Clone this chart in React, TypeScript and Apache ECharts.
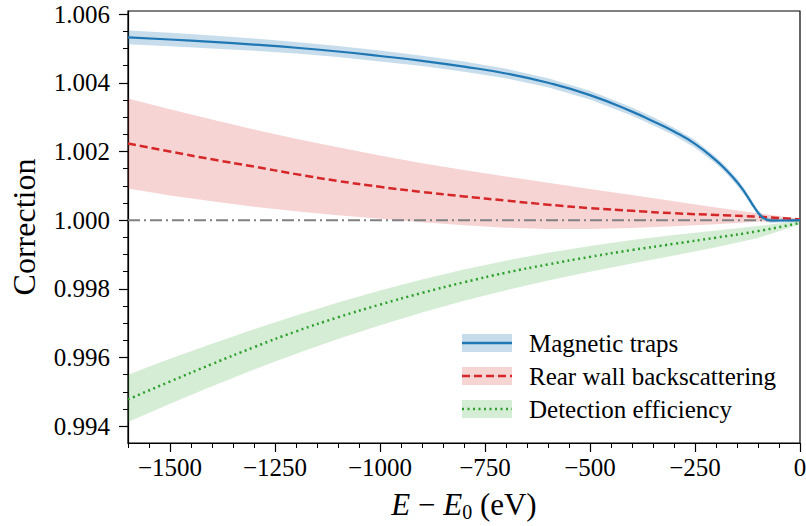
import React, { useEffect, useRef } from "react";
import * as echarts from "echarts";

// ---------- data ----------
const blueE = [-1600, -1500, -1400, -1300, -1200, -1100, -1000, -900, -800, -700, -600, -500, -400, -350, -300, -250, -200, -175, -150, -130, -120, -110, -100, -90, -80, -70, -50, -30, 0];
const blueMid = [1.00532, 1.00526, 1.00519, 1.00511, 1.00502, 1.00491, 1.00478, 1.00464, 1.00447, 1.00427, 1.004, 1.00364, 1.00316, 1.00288, 1.00258, 1.00222, 1.00174, 1.00145, 1.00111, 1.00078, 1.00059, 1.0004, 1.00022, 1.00009, 1.00002, 0.99999, 0.99999, 0.99999, 1.0];
const blueHalfWidth = [0.0002, 0.0002, 0.00019, 0.00018, 0.00017, 0.00016, 0.00016, 0.00015, 0.00015, 0.00014, 0.00013, 0.00013, 0.00012, 0.00012, 0.00011, 0.00011, 0.0001, 0.0001, 0.0001, 0.00009, 0.00009, 0.00008, 0.00008, 0.00008, 0.00007, 0.00007, 0.00006, 0.00005, 0.00004];

const gridE = [-1600, -1500, -1400, -1300, -1200, -1100, -1000, -900, -800, -700, -600, -500, -400, -300, -200, -100, 0];
const redMid = [1.00223, 1.002, 1.00177, 1.00156, 1.00134, 1.00114, 1.00097, 1.00082, 1.00069, 1.00057, 1.00045, 1.00035, 1.00027, 1.0002, 1.00015, 1.0001, 1.00002];
const redUpper = [1.00354, 1.00323, 1.00293, 1.00264, 1.00237, 1.00212, 1.00188, 1.00166, 1.00146, 1.00127, 1.00109, 1.00091, 1.00073, 1.00055, 1.00037, 1.0002, 1.00004];
const redLower = [1.00092, 1.00072, 1.00055, 1.00039, 1.00026, 1.00014, 1.00004, 0.99994, 0.99985, 0.99978, 0.99974, 0.99974, 0.99977, 0.99982, 0.99988, 0.99995, 1.0];

const greenMid = [0.99478, 0.9953, 0.99581, 0.9963, 0.99676, 0.99717, 0.99754, 0.99788, 0.99819, 0.99847, 0.99871, 0.99893, 0.99913, 0.99931, 0.99949, 0.99968, 0.99992];
const greenUpper = [0.9955, 0.99596, 0.9964, 0.99682, 0.99722, 0.9976, 0.99795, 0.99827, 0.99856, 0.99882, 0.99905, 0.99925, 0.99942, 0.99957, 0.9997, 0.99983, 0.99998];
const greenLower = [0.99412, 0.99465, 0.99516, 0.99565, 0.99611, 0.99654, 0.99694, 0.99731, 0.99765, 0.99796, 0.99824, 0.9985, 0.99874, 0.99897, 0.99921, 0.99948, 0.99988];

const referenceLine = [[-1600, 1.0], [0, 1.0]];

const xTicks = [-1500, -1250, -1000, -750, -500, -250, 0];
const yTicks = [0.994, 0.996, 0.998, 1.0, 1.002, 1.004, 1.006];

const legendNames = ["Magnetic traps", "Rear wall backscattering", "Detection efficiency"];

// ---------- styling ----------
const FONT = "Liberation Serif, serif";
const BLUE = "#1f77b4";
const RED = "#d62728";
const GREEN = "#2ca02c";
const BLUE_BAND = "rgba(31,119,180,0.25)";
const RED_BAND = "rgba(214,39,40,0.2)";
const GREEN_BAND = "rgba(44,160,44,0.2)";

const X_MIN = -1600;
const X_MAX = 0;
const Y_MIN = 0.99351;
const Y_MAX = 1.00609;

function minorTicks(min: number, max: number, step: number, majors: number[]) {
  const out: number[] = [];
  const start = Math.ceil(min / step - 1e-9);
  const end = Math.floor(max / step + 1e-9);
  for (let k = start; k <= end; k++) {
    const v = +(k * step).toFixed(6);
    if (majors.some((m) => Math.abs(m - v) < step / 10)) continue;
    out.push(v);
  }
  return out;
}

function bandSeries(xs: number[], lower: number[], upper: number[], color: string) {
  return {
    type: "custom",
    data: xs.map((x, i) => [x, lower[i], upper[i]]),
    encode: { x: 0, y: [1, 2] },
    silent: true,
    z: 1,
    clip: true,
    renderItem: (params: any, api: any) => {
      if (params.dataIndex !== 0) return null;
      const top = xs.map((x, i) => api.coord([x, upper[i]]));
      const bottom = xs.map((x, i) => api.coord([x, lower[i]])).reverse();
      return {
        type: "polygon",
        shape: { points: top.concat(bottom) },
        style: { fill: color, stroke: null },
      };
    },
  };
}

export default function App() {
  const ref = useRef<HTMLDivElement>(null);

  useEffect(() => {
    if (!ref.current) return;
    const chart = echarts.init(ref.current, null, { renderer: "svg" });

    const blueLower = blueMid.map((v, i) => v - blueHalfWidth[i]);
    const blueUpper = blueMid.map((v, i) => v + blueHalfWidth[i]);

    const legendTop = [343, 376, 409];
    const legendLineStyles = [
      { stroke: BLUE, lineWidth: 2.5 },
      { stroke: RED, lineWidth: 2.5, lineDash: [8, 4] },
      { stroke: GREEN, lineWidth: 2.5, lineDash: [2, 3.5] },
    ];
    const legendBands = [BLUE_BAND, RED_BAND, GREEN_BAND];
    const legendGraphics: any[] = [];
    legendNames.forEach((name, i) => {
      const cy = legendTop[i];
      legendGraphics.push({
        type: "rect",
        shape: { x: 462, y: cy - 9, width: 50, height: 18 },
        style: { fill: legendBands[i] },
      });
      legendGraphics.push({
        type: "line",
        shape: { x1: 462, y1: cy, x2: 512, y2: cy },
        style: { ...legendLineStyles[i], fill: null },
      });
      legendGraphics.push({
        type: "text",
        x: 529,
        y: cy,
        style: {
          text: name,
          fontFamily: FONT,
          fontSize: 25,
          fill: "#000",
          verticalAlign: "middle",
        },
      });
    });

    const axisLabelStyle = { fontFamily: FONT, fontSize: 25, color: "#000" };

    chart.setOption({
      animation: false,
      backgroundColor: "#fff",
      textStyle: { fontFamily: FONT },
      grid: {
        left: 128,
        right: 6,
        top: 11,
        bottom: 83,
        containLabel: false,
        outerBoundsMode: "none",
        show: true,
        borderColor: "#000",
        borderWidth: 1.2,
        backgroundColor: "transparent",
      },
      xAxis: [
        {
          type: "value",
          min: X_MIN,
          max: X_MAX,
          position: "bottom",
          axisLine: { show: true, onZero: false, lineStyle: { color: "#000", width: 1.2 } },
          axisTick: { show: true, length: 9, customValues: xTicks, lineStyle: { color: "#000", width: 1.2 } },
          axisLabel: {
            ...axisLabelStyle,
            customValues: xTicks,
            margin: 12,
            formatter: (v: number) => (v < 0 ? "\u2212" + Math.abs(v) : String(v)),
          },
          splitLine: { show: false },
          name: "{i|E} \u2212 {i|E}{s|0} (eV)",
          nameLocation: "middle",
          nameGap: 46,
          nameTextStyle: {
            fontFamily: FONT,
            fontSize: 31,
            lineHeight: 30,
            color: "#000",
            rich: {
              i: { fontFamily: FONT, fontSize: 31, lineHeight: 30, fontStyle: "italic", color: "#000" },
              s: { fontFamily: FONT, fontSize: 20, lineHeight: 20, color: "#000", padding: [16, 0, 0, 0] },
            },
          },
        },
        {
          type: "value",
          min: X_MIN,
          max: X_MAX,
          position: "bottom",
          axisLine: { show: false, onZero: false },
          axisTick: { show: true, length: 5, customValues: minorTicks(X_MIN, X_MAX, 50, xTicks), lineStyle: { color: "#000", width: 1 } },
          axisLabel: { show: false },
          splitLine: { show: false },
        },
      ],
      yAxis: [
        {
          type: "value",
          min: Y_MIN,
          max: Y_MAX,
          position: "left",
          axisLine: { show: true, onZero: false, lineStyle: { color: "#000", width: 1.2 } },
          axisTick: { show: true, length: 9, customValues: yTicks, lineStyle: { color: "#000", width: 1.2 } },
          axisLabel: {
            ...axisLabelStyle,
            customValues: yTicks,
            margin: 18,
            formatter: (v: number) => v.toFixed(3),
          },
          splitLine: { show: false },
          name: "Correction",
          nameLocation: "middle",
          nameGap: 88,
          nameRotate: 90,
          nameTextStyle: { fontFamily: FONT, fontSize: 32, color: "#000" },
        },
        {
          type: "value",
          min: Y_MIN,
          max: Y_MAX,
          position: "left",
          axisLine: { show: false, onZero: false },
          axisTick: { show: true, length: 5, customValues: minorTicks(Y_MIN, Y_MAX, 0.0005, yTicks), lineStyle: { color: "#000", width: 1 } },
          axisLabel: { show: false },
          splitLine: { show: false },
        },
      ],
      series: [
        bandSeries(gridE, redLower, redUpper, RED_BAND),
        bandSeries(gridE, greenLower, greenUpper, GREEN_BAND),
        bandSeries(blueE, blueLower, blueUpper, BLUE_BAND),
        {
          type: "line",
          name: "reference",
          data: referenceLine,
          symbol: "none",
          lineStyle: { color: "#808080", width: 2, type: [12, 4, 2, 4] },
          silent: true,
          z: 2,
        },
        {
          type: "line",
          name: legendNames[1],
          data: gridE.map((x, i) => [x, redMid[i]]),
          symbol: "none",
          smooth: 0.5,
          lineStyle: { color: RED, width: 2.5, type: [8, 4] },
          z: 3,
        },
        {
          type: "line",
          name: legendNames[2],
          data: gridE.map((x, i) => [x, greenMid[i]]),
          symbol: "none",
          smooth: 0.5,
          lineStyle: { color: GREEN, width: 2.5, type: [2, 3.5] },
          z: 3,
        },
        {
          type: "line",
          name: legendNames[0],
          data: blueE.map((x, i) => [x, blueMid[i]]),
          symbol: "none",
          smooth: 0.5,
          lineStyle: { color: BLUE, width: 2.2 },
          z: 4,
        },
      ],
      graphic: legendGraphics,
    });

    return () => chart.dispose();
  }, []);

  return (
    <div
      ref={ref}
      style={{ position: "fixed", left: 0, top: 0, width: 806, height: 526, background: "#fff" }}
    />
  );
}
